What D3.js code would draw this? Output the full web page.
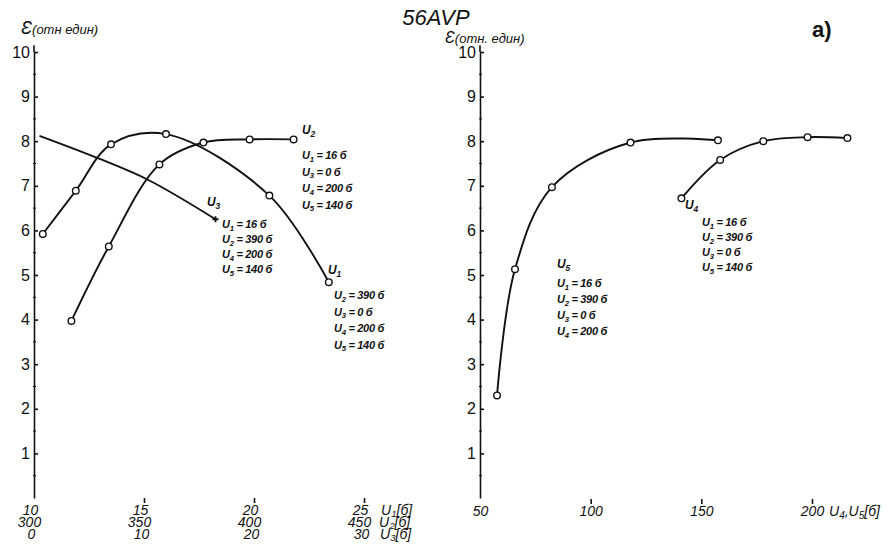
<!DOCTYPE html>
<html>
<head>
<meta charset="utf-8">
<script src="https://cdn.jsdelivr.net/npm/d3@7"></script>
<style>
    body { margin: 0; background: #fff; }
    svg text { font-family: "Liberation Sans", Arial, sans-serif; fill: #111; }
    .ax path, .ax line { stroke: #111; stroke-width: 1.6; }
    .ax text { font-size: 16px; }
    .bot text { font-size: 14px; font-style: italic; }
    .param { font-size: 11px; font-style: italic; font-weight: bold; letter-spacing: -0.3px; }
</style>
</head>
<body>
<div id="chart"></div>
<script>
// Epsilon (relative units) vs. electrode voltages, tube 56AVP.
var epsTicks = [1, 2, 3, 4, 5, 6, 7, 8, 9, 10];
var epsMinor = [0.5, 1.5, 2.5, 3.5, 4.5, 5.5, 6.5, 7.5, 8.5, 9.5];
var u1Ticks = [10, 15, 20, 25];
var u2Ticks = [300, 350, 400, 450];
var u3Ticks = [0, 10, 20, 30];
var u45Ticks = [50, 100, 150, 200];

// left panel curves
var u1Volts = [10.4, 11.9, 13.5, 16.0, 20.7, 23.4];
var u1Eps   = [5.92, 6.89, 7.93, 8.16, 6.78, 4.84];
var u2Volts = [317, 334, 357, 377, 398, 418];
var u2Eps   = [3.97, 5.64, 7.48, 7.97, 8.04, 8.04];
var u3Volts = [0.5, 5.8, 10.4, 16.5];
var u3Eps   = [8.12, 7.62, 7.13, 6.25];

// right panel curves
var u5Volts = [57.7, 65.8, 82.5, 118, 157.5];
var u5Eps   = [2.30, 5.13, 6.97, 7.97, 8.02];
var u4Volts = [141, 158.5, 178, 198, 216];
var u4Eps   = [6.72, 7.58, 8.0, 8.09, 8.07];

// operating conditions printed next to each curve
var u1Params = [["2", " = 390 б"], ["3", " = 0 б"], ["4", " = 200 б"], ["5", " = 140 б"]];
var u2Params = [["1", " = 16 б"], ["3", " = 0 б"], ["4", " = 200 б"], ["5", " = 140 б"]];
var u3Params = [["1", " = 16 б"], ["2", " = 390 б"], ["4", " = 200 б"], ["5", " = 140 б"]];
var u5Params = [["1", " = 16 б"], ["2", " = 390 б"], ["3", " =   0 б"], ["4", " = 200 б"]];
var u4Params = [["1", " =  16 б"], ["2", " = 390 б"], ["3", " =   0 б"], ["5", " = 140 б"]];

var W = 890, H = 558;
var svg = d3.select('#chart').append('svg')
    .attr('width', W)
    .attr('height', H);

var y = d3.scaleLinear().domain([0, 10]).range([498, 52]);
var xU1 = d3.scaleLinear().domain([10, 25]).range([34, 364]);
var xU2 = d3.scaleLinear().domain([300, 450]).range([34, 364]);
var xU3 = d3.scaleLinear().domain([0, 30]).range([34, 364]);
var xU45 = d3.scaleLinear().domain([50, 200]).range([480, 812]);

function yAxis(x0) {
    var g = svg.append('g')
        .attr('class', 'ax')
        .attr('transform', 'translate(' + x0 + ',0)')
        .call(d3.axisLeft(y).tickValues(epsTicks).tickSize(-4).tickSizeOuter(0).tickPadding(4).tickFormat(d3.format('d')));
    // axis runs a little past 10
    g.append('line')
        .attr('y1', y(10)).attr('y2', y(10.15));
    // small intermediate ticks
    g.selectAll('.minor')
        .data(epsMinor).enter()
        .append('line')
        .attr('class', 'minor')
        .attr('x1', -1).attr('x2', 2)
        .attr('y1', d => y(d)).attr('y2', d => y(d))
        .style('stroke-width', 1);
    return g;
}
yAxis(xU1(10));
yAxis(xU45(50));

// bottom scales: tiny ticks, no baseline
function bottomRow(scale, ticks, yPos, tickLen, dx) {
    var g = svg.append('g')
        .attr('class', 'ax bot')
        .attr('transform', 'translate(0,' + yPos + ')')
        .call(d3.axisBottom(scale).tickValues(ticks).tickSize(0).tickPadding(0));
    g.select('.domain').remove();
    g.selectAll('text').attr('dy', 0).attr('dx', dx);
    if (tickLen) {
        g.selectAll('.tick').filter((d, i) => i > 0).append('line')
            .attr('y1', -17).attr('y2', -17 + tickLen);
    }
    return g;
}
bottomRow(xU1, u1Ticks, 515, 5, -4);
bottomRow(xU2, u2Ticks, 527, 0, -5);
bottomRow(xU3, u3Ticks, 539, 0, -3);
bottomRow(xU45, u45Ticks, 516, 5, 0);

function subText(sel, x, yy, sub, rest, size, drop) {
    var d = drop || size * 0.25;
    var t = sel.append('text')
        .attr('x', x).attr('y', yy)
        .style('font-style', 'italic')
        .style('font-size', size + 'px');
    t.append('tspan').text('U');
    t.append('tspan').attr('dy', d).style('font-size', (size * 0.7) + 'px').text(sub);
    t.append('tspan').attr('dy', -d).text(rest);
    return t;
}

// axis unit labels
subText(svg, xU1(25) + 17, 515, '1', '[б]', 14, 2);
subText(svg, xU1(25) + 15, 527, '2', '[б]', 14, 2);
subText(svg, xU1(25) + 16, 539, '3', '[б]', 14, 2);
var u45 = svg.append('text')
    .attr('x', xU45(200) + 17).attr('y', 516)
    .style('font-style', 'italic').style('font-size', '14px');
u45.append('tspan').text('U');
u45.append('tspan').attr('dy', 3).style('font-size', '10px').text('4');
u45.append('tspan').attr('dy', -3).text(',U');
u45.append('tspan').attr('dy', 3).style('font-size', '10px').text('5');
u45.append('tspan').attr('dy', -3).text('[б]');

// titles
svg.append('text')
    .attr('x', 436).attr('y', 25)
    .attr('text-anchor', 'middle')
    .style('font-size', '22px').style('font-style', 'italic')
    .text('56AVP');
svg.append('text')
    .attr('x', 812).attr('y', 37)
    .style('font-size', '22px').style('font-weight', 'bold')
    .text('a)');

function epsTitle(x, yy, big, txt) {
    var t = svg.append('text').attr('x', x).attr('y', yy).style('font-style', 'italic');
    t.append('tspan').style('font-size', big + 'px').text('Ɛ');
    t.append('tspan').style('font-size', '13px').text(txt);
}
epsTitle(21, 34, 18, '(отн един)');
epsTitle(445, 43, 16, '(отн. един)');

// curves
var line = d3.line().curve(d3.curveCatmullRom.alpha(0.5));

function drawCurve(xs, xv, ev, markers) {
    var pts = xv.map((v, i) => [xs(v), y(ev[i])]);
    svg.append('path')
        .attr('d', line(pts))
        .attr('fill', 'none')
        .attr('stroke', '#111')
        .attr('stroke-width', 1.9);
    if (markers) {
        svg.append('g').selectAll('circle')
            .data(pts).enter()
            .append('circle')
            .attr('cx', d => d[0]).attr('cy', d => d[1])
            .attr('r', 3.3)
            .attr('fill', '#fff')
            .attr('stroke', '#111')
            .attr('stroke-width', 1.4);
    }
    return pts;
}

drawCurve(xU1, u1Volts, u1Eps, true);
drawCurve(xU2, u2Volts, u2Eps, true);
var p3 = drawCurve(xU3, u3Volts, u3Eps, false);
var end3 = p3[p3.length - 1];
svg.append('path')
    .attr('d', 'M' + (end3[0] - 3) + ',' + end3[1] + 'h6M' + end3[0] + ',' + (end3[1] - 3) + 'v6')
    .attr('stroke', '#111').attr('stroke-width', 1.8);
drawCurve(xU45, u5Volts, u5Eps, true);
drawCurve(xU45, u4Volts, u4Eps, true);

// curve names and parameter blocks
function paramBlock(pos, y0, name, params, lineH) {
    subText(svg, pos.name[0], pos.name[1], name, '', 12).attr('class', 'param').style('font-size', '12px');
    params.forEach((p, i) => {
        subText(svg, pos.block, y0 + i * lineH, p[0], p[1], 11).attr('class', 'param');
    });
}
paramBlock({ name: [328, 274], block: 334 }, 299, '1', u1Params, 16.5);
paramBlock({ name: [302, 134], block: 302 }, 159, '2', u2Params, 16.5);
paramBlock({ name: [207, 206], block: 222 }, 228, '3', u3Params, 15);
paramBlock({ name: [557, 268], block: 557 }, 287, '5', u5Params, 16);
paramBlock({ name: [685, 209], block: 702 }, 226, '4', u4Params, 15);
</script>
</body>
</html>
